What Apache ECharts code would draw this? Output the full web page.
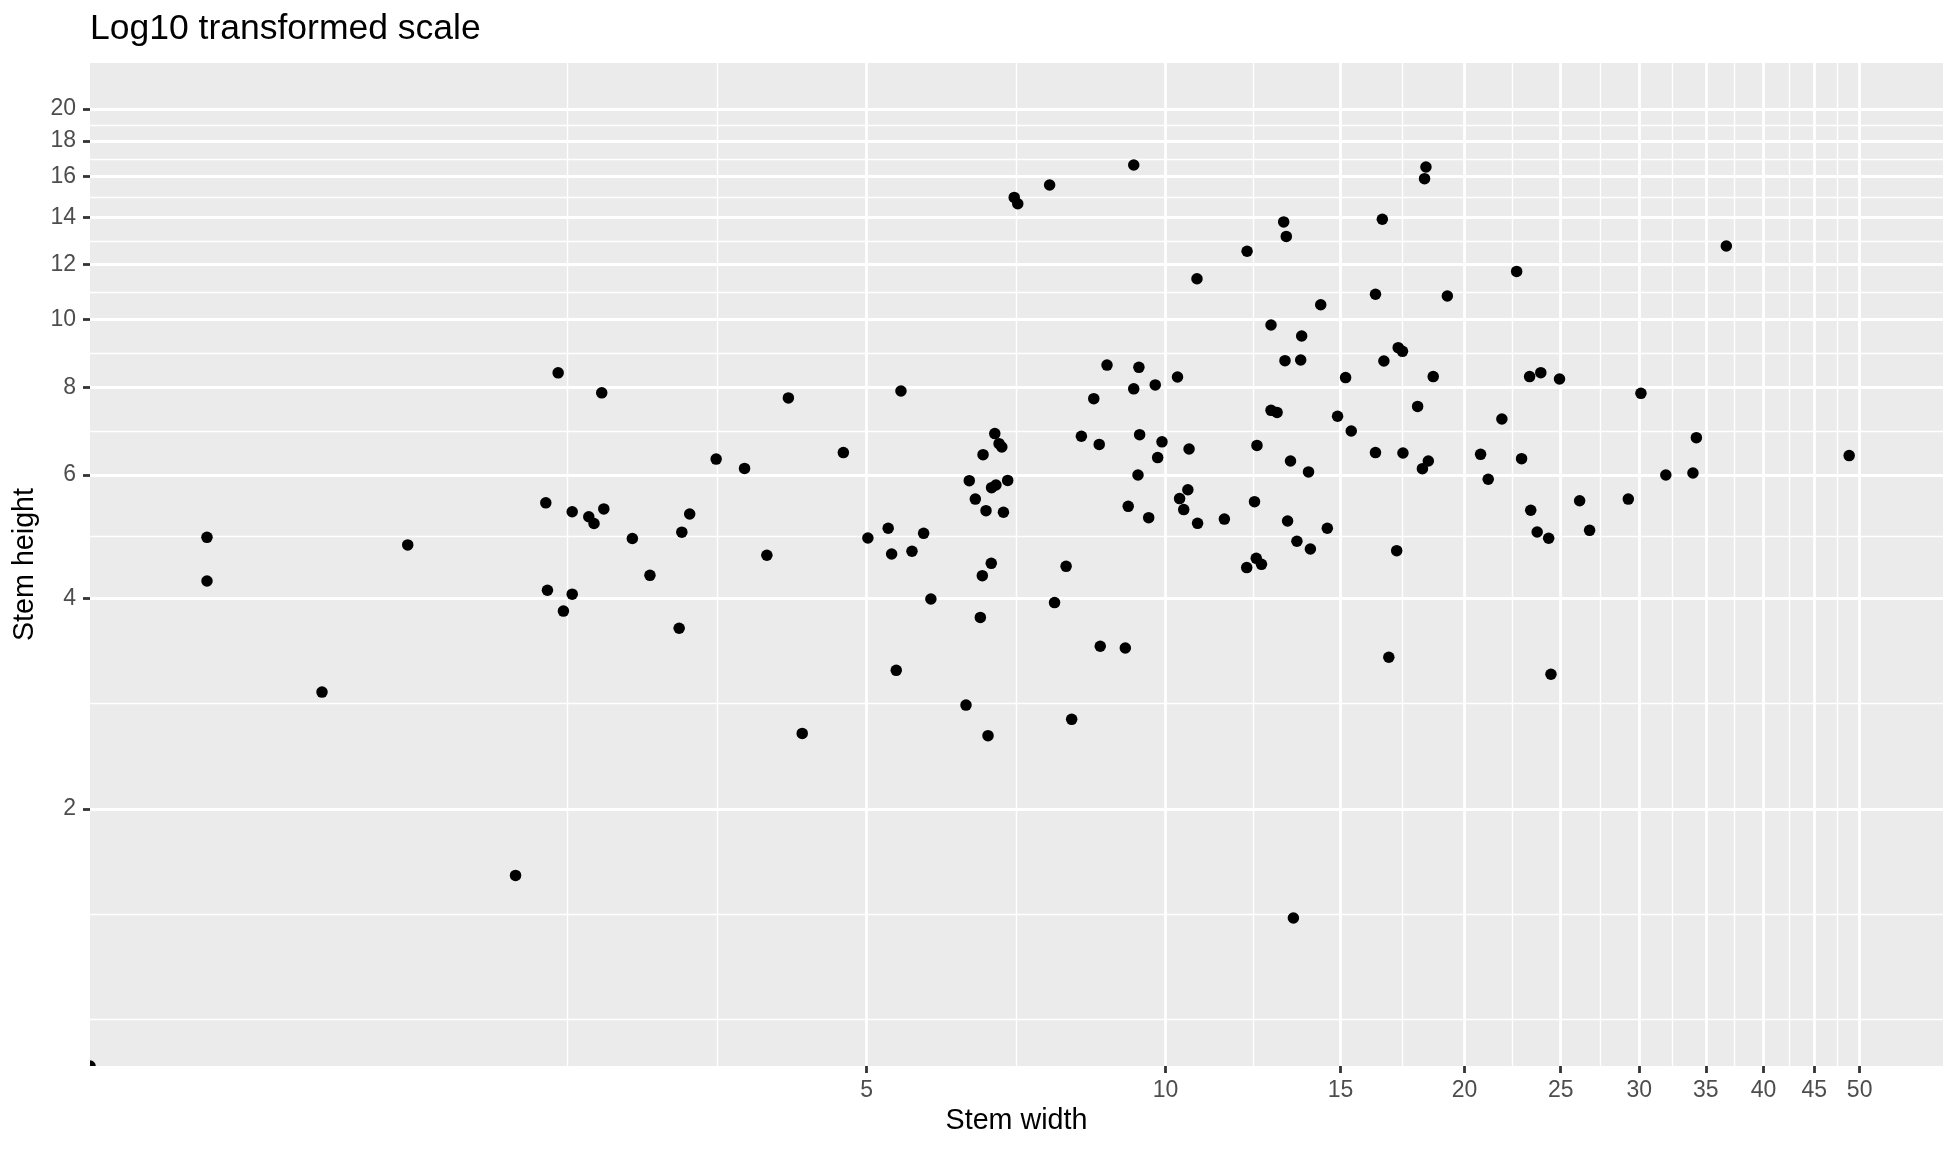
<!DOCTYPE html>
<html>
<head>
<meta charset="utf-8">
<script src="https://cdn.jsdelivr.net/npm/echarts@6/dist/echarts.min.js"></script>
<style>
html,body{margin:0;padding:0;background:#ffffff;}
#chart{width:1958px;height:1152px;}
</style>
</head>
<body>
<div id="chart"></div>
<script>
// ---- data ----
const stemWidth = [
  1.083, 1.083, 1.414, 1.725, 2.215, 2.376, 2.385, 2.445, 2.475, 2.526,
  2.526, 2.625, 2.657, 2.705, 2.718, 2.904, 3.025, 3.237, 3.257, 3.317,
  3.527, 3.767, 3.967, 4.17, 4.306, 4.737, 5.014, 5.256, 5.298, 5.355,
  5.414, 5.554, 5.706, 5.803, 6.295, 6.343, 6.433, 6.508, 6.538, 6.549,
  6.594, 6.625, 6.675, 6.68, 6.73, 6.748, 6.797, 6.84, 6.866, 6.934,
  7.04, 7.098, 7.642, 7.73, 7.94, 8.043, 8.226, 8.466, 8.574, 8.594,
  8.73, 9.108, 9.17, 9.288, 9.288, 9.38, 9.40, 9.416, 9.616, 9.763,
  9.818, 9.917, 10.28, 10.33, 10.43, 10.53, 10.56, 10.755, 10.77, 11.46,
  12.07, 12.08, 12.29, 12.34, 12.36, 12.49, 12.77, 12.77, 12.95, 13.15,
  13.19, 13.23, 13.27, 13.36, 13.45, 13.56, 13.71, 13.68, 13.93, 13.99,
  14.33, 14.55, 14.9, 15.18, 15.38, 16.27, 16.27, 16.53, 16.59, 16.78,
  17.09, 17.15, 17.32, 17.34, 17.94, 18.14, 18.23, 18.29, 18.39, 18.6,
  19.22, 20.76, 21.13, 21.81, 22.57, 22.83, 23.26, 23.32, 23.67, 23.87,
  24.31, 24.44, 24.93, 26.12, 26.73, 29.24, 30.11, 31.9, 33.97, 34.24,
  36.7, 48.8, 0
];
const stemHeight = [
  4.886, 4.232, 2.937, 4.766, 1.607, 5.474, 4.105, 8.395, 3.834, 5.316,
  4.053, 5.229, 5.113, 7.86, 5.365, 4.867, 4.312, 3.623, 4.970, 5.277,
  6.32, 6.13, 4.606, 7.73, 2.564, 6.457, 4.875, 5.034, 4.625, 3.155,
  7.907, 4.667, 4.951, 3.99, 2.814, 5.888, 5.541, 3.755, 4.308, 6.414,
  5.335, 2.545, 4.486, 5.754, 6.873, 5.804, 6.65, 6.577, 5.306, 5.893,
  14.95, 14.64, 15.57, 3.942, 4.442, 2.685, 6.814, 7.71, 6.634, 3.415,
  8.611, 3.396, 5.411, 16.63, 7.963, 5.998, 8.548, 6.85, 5.213, 8.067,
  6.352, 6.69, 8.279, 5.55, 5.353, 5.715, 6.533, 11.44, 5.117, 5.189,
  4.423, 12.52, 5.495, 4.56, 6.612, 4.471, 9.824, 7.42, 7.37, 13.79,
  8.737, 13.15, 5.156, 6.281, 1.397, 4.824, 9.476, 8.756, 6.06, 4.703,
  10.50, 5.034, 7.276, 8.264, 6.933, 10.87, 6.457, 13.91, 8.728, 3.294,
  4.677, 9.12, 9.01, 6.448, 7.516, 6.125, 15.9, 16.52, 6.281, 8.292,
  10.81, 6.42, 5.916, 7.211, 11.72, 6.33, 8.292, 5.342, 4.972, 8.40,
  4.871, 3.114, 8.226, 5.512, 5.0, 5.541, 7.847, 5.998, 6.038, 6.783,
  12.74, 6.394, 0
];

// ---- axis breaks ----
const xBreaks = [5, 10, 15, 20, 25, 30, 35, 40, 45, 50];
const yBreaks = [2, 4, 6, 8, 10, 12, 14, 16, 18, 20];
const xMinorBreaks = [2.5, 3.536, 7.071, 12.247, 17.321, 22.361, 27.386, 32.404, 37.417, 42.426, 47.434];
const yMinorBreaks = [1, 1.414, 2.828, 4.899, 6.928, 8.944, 10.954, 12.961, 14.967, 16.971, 18.974];
const xLimits = [0.8257, 60.66];
const yLimits = [0.8585, 23.26];

const FONT = "'Liberation Sans', Arial, Helvetica, sans-serif";

// positive values plot normally; values of 0 are -Inf on a log scale,
// which ggplot draws on the panel edge (clipped by the panel)
const finitePoints = [];
const edgePoints = [];
stemWidth.forEach((w, i) => {
  const h = stemHeight[i];
  if (w > 0 && h > 0) finitePoints.push([w, h]);
  else edgePoints.push([w > 0 ? w : xLimits[0], h > 0 ? h : yLimits[0]]);
});

const chart = echarts.init(document.getElementById('chart'), null, {renderer: 'canvas'});

const majorLine = {show: true, lineStyle: {color: '#FFFFFF', width: 2.8}};
const minorLine = {show: true, lineStyle: {color: '#FFFFFF', width: 1.4}};
const POINT_SIZE = 11.5;

chart.setOption({
  animation: false,
  backgroundColor: '#FFFFFF',
  textStyle: {fontFamily: FONT},
  title: {
    text: 'Log10 transformed scale',
    left: 90,
    top: 11,
    padding: 0,
    textStyle: {fontFamily: FONT, fontSize: 35.5, fontWeight: 'normal', color: '#000000'}
  },
  grid: {
    left: 90, top: 63, width: 1853, height: 1003,
    show: true, backgroundColor: '#EBEBEB', borderWidth: 0,
    containLabel: false
  },
  xAxis: [
    {
      type: 'log', logBase: 10, min: xLimits[0], max: xLimits[1],
      position: 'bottom',
      axisLine: {show: false},
      axisTick: {show: true, customValues: xBreaks, length: 7, lineStyle: {color: '#333333', width: 2.8}},
      axisLabel: {show: true, customValues: xBreaks, margin: 13, fontSize: 23, color: '#4D4D4D', fontFamily: FONT},
      splitLine: majorLine,
      name: 'Stem width', nameLocation: 'middle', nameGap: 40,
      nameTextStyle: {fontSize: 28.7, color: '#000000', fontFamily: FONT}
    },
    {
      type: 'log', logBase: 10, min: xLimits[0], max: xLimits[1],
      position: 'bottom', gridIndex: 0,
      axisLine: {show: false},
      axisTick: {show: false, customValues: xMinorBreaks},
      axisLabel: {show: false, customValues: xMinorBreaks},
      splitLine: minorLine
    }
  ],
  yAxis: [
    {
      type: 'log', logBase: 10, min: yLimits[0], max: yLimits[1],
      position: 'left',
      axisLine: {show: false},
      axisTick: {show: true, customValues: yBreaks, length: 7, lineStyle: {color: '#333333', width: 2.8}},
      axisLabel: {show: true, customValues: yBreaks, margin: 14, fontSize: 23, color: '#4D4D4D', fontFamily: FONT,
                  padding: [4, 0, 0, 0]},
      splitLine: majorLine,
      name: 'Stem height', nameLocation: 'middle', nameGap: 48, nameRotate: 90,
      nameTextStyle: {fontSize: 28.7, color: '#000000', fontFamily: FONT}
    },
    {
      type: 'log', logBase: 10, min: yLimits[0], max: yLimits[1],
      position: 'left', gridIndex: 0,
      axisLine: {show: false},
      axisTick: {show: false, customValues: yMinorBreaks},
      axisLabel: {show: false, customValues: yMinorBreaks},
      splitLine: minorLine
    }
  ],
  series: [
    {
      type: 'scatter',
      xAxisIndex: 0, yAxisIndex: 0,
      data: finitePoints,
      symbol: 'circle',
      symbolSize: POINT_SIZE,
      itemStyle: {color: '#000000', opacity: 1},
      clip: true,
      silent: true,
      z: 5
    },
    {
      type: 'custom',
      xAxisIndex: 0, yAxisIndex: 0,
      data: edgePoints,
      encode: {x: 0, y: 1},
      clip: true,
      silent: true,
      z: 5,
      renderItem: function (params, api) {
        const p = api.coord([api.value(0), api.value(1)]);
        return {
          type: 'circle',
          shape: {cx: p[0], cy: p[1], r: POINT_SIZE / 2},
          style: {fill: '#000000'}
        };
      }
    }
  ]
});
</script>
</body>
</html>
